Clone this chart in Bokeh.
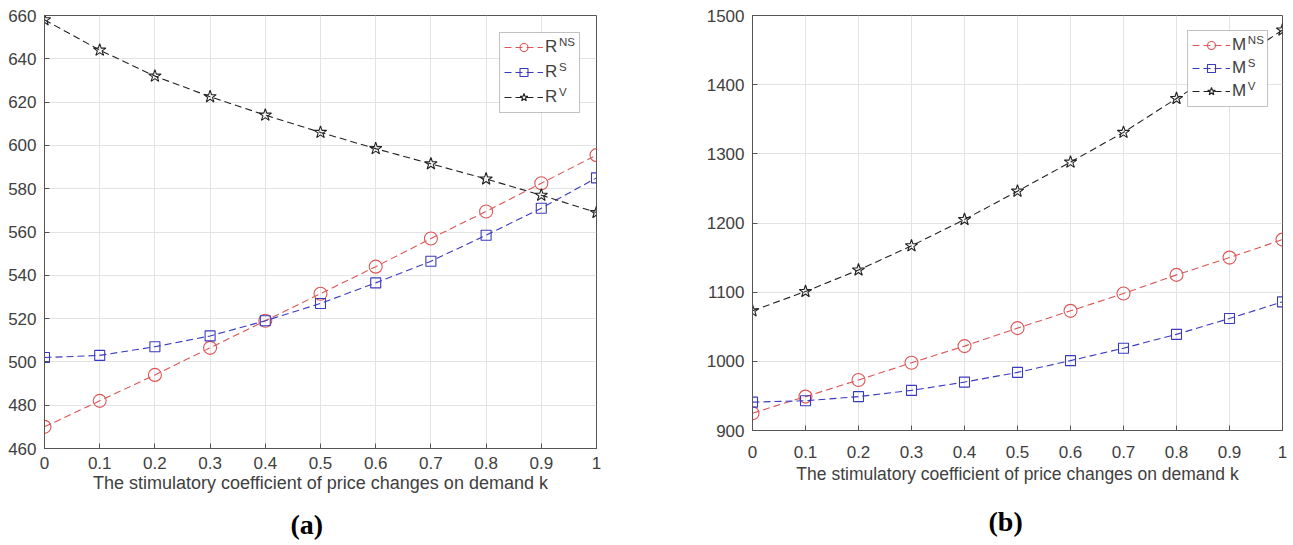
from bokeh.plotting import figure
from bokeh.layouts import row
from bokeh.models import (Range1d, FixedTicker, Legend, LegendItem, Label, Title,
                          BoxAnnotation)
from bokeh.embed import file_html
from bokeh.resources import INLINE

# ---------------- data ----------------
k = [0, 0.1, 0.2, 0.3, 0.4, 0.5, 0.6, 0.7, 0.8, 0.9, 1]
xtick_labels = ["0", "0.1", "0.2", "0.3", "0.4", "0.5", "0.6", "0.7", "0.8", "0.9", "1"]

R_NS = [470, 482, 494, 506.5, 519, 531.5, 544, 557, 569.5, 582.5, 595.5]
R_S = [502, 503, 507, 512, 519, 527, 536.5, 546.5, 558.5, 571, 585]
R_V = [658, 644, 632, 622.5, 614, 606, 598.5, 591.5, 584.5, 577, 569]
yticks_a = [460, 480, 500, 520, 540, 560, 580, 600, 620, 640, 660]

M_NS = [925, 949, 973, 998, 1022, 1048, 1073, 1098, 1125, 1150, 1176]
M_S = [941, 943, 949, 958, 970, 984, 1001, 1019, 1039, 1062, 1086]
M_V = [1073, 1101, 1132, 1167, 1205, 1246, 1288, 1331, 1380, 1428, 1479]
yticks_b = [900, 1000, 1100, 1200, 1300, 1400, 1500]

x_label = "The stimulatory coefficient of price changes on demand k"

RED = "#dd5555"
BLUE = "#3a3ac0"
BLACK = "#222222"
AXC = "#555555"
TXT = "#404040"
FONT = "Liberation Sans"


def make_panel(frame_w, frame_h, left, right, top, yr, yticks, series,
               base, sups, panel_title, title_offset, tick_standoff,
               label_standoff, title_standoff, leg_margin, leg_spacing,
               glyph_w, lab_w, xlabel_size):
    p = figure(frame_width=frame_w, frame_height=frame_h, output_backend="svg",
               toolbar_location=None, x_range=Range1d(0, 1),
               y_range=Range1d(yr[0], yr[1]),
               min_border_left=left, min_border_right=right,
               min_border_top=top, min_border_bottom=0)
    p.background_fill_color = "white"
    p.border_fill_color = "white"
    p.outline_line_color = AXC
    p.outline_line_width = 1

    p.xaxis.ticker = FixedTicker(ticks=k)
    p.xaxis.major_label_overrides = {t: s for t, s in zip(k, xtick_labels)}
    p.yaxis.ticker = FixedTicker(ticks=yticks)
    p.xgrid.ticker = FixedTicker(ticks=k)
    p.ygrid.ticker = FixedTicker(ticks=yticks)
    for g in (p.xgrid, p.ygrid):
        g.grid_line_color = "#e3e3e3"
        g.grid_line_width = 1

    for ax in (p.xaxis, p.yaxis):
        ax.axis_line_color = AXC
        ax.major_tick_line_color = AXC
        ax.major_tick_in = 5
        ax.major_tick_out = 0
        ax.minor_tick_line_color = None
        ax.major_label_text_font = FONT
        ax.major_label_text_font_size = "17px"
        ax.major_label_text_color = TXT
    p.xaxis.major_label_standoff = tick_standoff
    p.yaxis.major_label_standoff = 8
    p.xaxis.axis_label = x_label
    p.xaxis.axis_label_text_font = FONT
    p.xaxis.axis_label_text_font_size = xlabel_size
    p.xaxis.axis_label_text_font_style = "normal"
    p.xaxis.axis_label_text_color = TXT
    p.xaxis.axis_label_standoff = label_standoff

    items = []
    for ys, color, marker, msize in series:
        ln = p.line(k, ys, line_color=color, line_width=1.1, line_dash="7 4")
        sc = p.scatter(k, ys, marker=marker, size=msize, fill_color=None,
                       line_color=color, line_width=1.1)
        items.append((ln, sc))

    padding = 5
    row_h = 20
    stand = 2
    n = len(items)
    leg_w = 2 * padding + glyph_w + stand + lab_w
    leg_h = 2 * padding + n * row_h + (n - 1) * leg_spacing

    # opaque legend box (drawn above the data lines)
    box_right = frame_w - leg_margin
    box_top = frame_h - leg_margin
    p.add_layout(BoxAnnotation(left=box_right - leg_w, right=box_right,
                               top=box_top, bottom=box_top - leg_h,
                               left_units="screen", right_units="screen",
                               top_units="screen", bottom_units="screen",
                               fill_color="white", fill_alpha=1.0,
                               line_color="#333333", line_width=1,
                               level="guide", editable=False))

    legend = Legend(items=[LegendItem(label=base, renderers=list(r)) for r in items],
                    location="top_right", margin=leg_margin, padding=padding,
                    spacing=leg_spacing, glyph_width=glyph_w, glyph_height=row_h,
                    label_height=row_h, label_width=lab_w, label_standoff=stand,
                    label_text_font=FONT, label_text_font_size="17px",
                    label_text_color=TXT, border_line_color="white",
                    border_line_alpha=0.0, background_fill_alpha=0.0)
    p.add_layout(legend)

    base_w = 0.722 * 17 if base == "R" else 0.833 * 17
    sx = frame_w - leg_margin - padding - lab_w + base_w + 1.2
    for i, s in enumerate(sups):
        cy_top = leg_margin + padding + row_h / 2 + i * (row_h + leg_spacing) - 6
        p.add_layout(Label(x=sx, y=frame_h - cy_top, x_units="screen", y_units="screen",
                           text=s, text_font=FONT, text_font_size="11.5px",
                           text_color=TXT, text_baseline="middle", text_align="left"))

    p.add_layout(Title(text=panel_title, align="left", offset=title_offset,
                       text_font="Liberation Serif", text_font_style="bold",
                       text_font_size="28px", text_color="black",
                       standoff=title_standoff),
                 "below")
    return p


pa = make_panel(552, 433, 44, 104, 15, (460, 660), yticks_a,
                [(R_NS, RED, "circle", 13), (R_S, BLUE, "square", 10),
                 (R_V, BLACK, "star", 13)],
                "R", ["NS", "S", "V"], "(a)", 246, 8, 1, 23, 17, 5, 39, 29, "18px")
pb = make_panel(530, 415, 52, 8, 15, (900, 1500), yticks_b,
                [(M_NS, RED, "circle", 13), (M_S, BLUE, "square", 10),
                 (M_V, BLACK, "star", 13)],
                "M", ["NS", "S", "V"], "(b)", 236, 15, 3, 35, 15, 3, 38, 30, "17.5px")

layout = row(pa, pb)
open("out.html", "w").write(file_html(layout, INLINE))
